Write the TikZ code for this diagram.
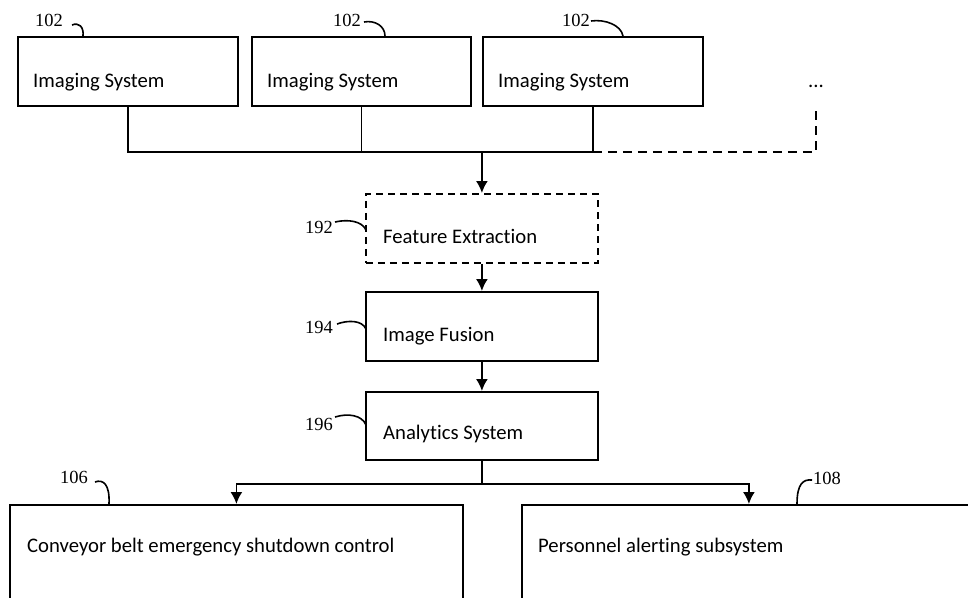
\documentclass[tikz,border=0pt]{standalone}
\usepackage{fontspec}
\setmainfont{Carlito}[Ligatures=NoCommon]
\newfontfamily\numfont{Liberation Serif}
\usetikzlibrary{arrows.meta,calc}
\begin{document}
\begin{tikzpicture}[x=1pt,y=-1pt,
  box/.style={draw, line width=1.8pt, rectangle, inner sep=0pt, anchor=north west},
  dbox/.style={box, dash pattern=on 7pt off 5pt},
  txt/.style={anchor=base west, inner sep=0pt, font=\fontsize{20.7}{24}\selectfont},
  num/.style={anchor=base west, inner sep=0pt, font=\numfont\fontsize{18.5}{20}\selectfont},
  wire/.style={line width=1.8pt},
  arr/.style={wire, -{Latex[length=12pt,width=12pt]}},
  lead/.style={line width=1.6pt}]
\clip (0,0) rectangle (968,597);
\fill[white] (0,0) rectangle (968,597);

% imaging systems
\node[box, minimum width=220, minimum height=69] (img1) at (17,36) {};
\node[box, minimum width=219, minimum height=69] (img2) at (251,36) {};
\node[box, minimum width=220, minimum height=69] (img3) at (482,36) {};
\node[txt] at (33,87) {Imaging System};
\node[txt] at (267,87) {Imaging System};
\node[txt] at (498,87) {Imaging System};
\node[txt, anchor=base] (dots) at (816,87) {...};
\coordinate (dotsEnd) at (816,106);

% processing chain
\node[dbox, minimum width=232, minimum height=69] (feat) at (365,193) {};
\node[txt] at (383,243) {Feature Extraction};
\node[box, minimum width=232, minimum height=69] (fuse) at (365,291) {};
\node[txt] at (383,341) {Image Fusion};
\node[box, minimum width=232, minimum height=68] (anal) at (365,391) {};
\node[txt] at (383,439) {Analytics System};

% output subsystems
\node[box, minimum width=453, minimum height=120] (conv) at (9,504) {};
\node[txt] at (27,552) {Conveyor belt emergency shutdown control};
\node[box, minimum width=454, minimum height=120] (pers) at (521,504) {};
\node[txt] at (538,552) {Personnel alerting subsystem};

% bus joining the imaging systems
\coordinate (busR) at ($(img3.south)+(0,45)$);
\draw[wire] (img1.south) |- (busR) -- (img3.south);
\draw[wire] (img2.south) -- (img2.south |- busR);
\draw[wire, dash pattern=on 9pt off 6pt] (busR) -| (dotsEnd);

% flow arrows
\draw[arr] (feat.north |- busR) -- (feat.north);
\draw[arr] (feat.south) -- (fuse.north);
\draw[arr] (fuse.south) -- (anal.north);
\coordinate (split) at ($(anal.south)+(0,23)$);
\draw[wire] (anal.south) -- (split);
\draw[arr] (split) -| (conv.north);
\draw[arr] (split) -| (pers.north);

% reference numerals
\node[num] at (35,27) {102};
\draw[lead] (72,25) .. controls (79,22) and (84,27) .. (83,36);
\node[num] at (333,27) {102};
\draw[lead] (364,22) .. controls (375,20) and (385,26) .. (385,36);
\node[num] at (562,27) {102};
\draw[lead] (591,21) .. controls (605,19) and (621,25) .. (623,36);
\node[num] at (305,233) {192};
\draw[lead] (335,222) .. controls (348,219) and (362,221) .. (366,230);
\node[num] at (305,333) {194};
\draw[lead] (337,324) .. controls (348,320) and (362,320) .. (366,329);
\node[num] at (305,430) {196};
\draw[lead] (335,417) .. controls (348,413) and (362,415) .. (366,425);
\node[num] at (60,483) {106};
\draw[lead] (95,482) .. controls (103,479) and (110,484) .. (109,504);
\node[num] at (813,484) {108};
\draw[lead] (812,480) .. controls (803,479) and (797,484) .. (797,504);
\end{tikzpicture}
\end{document}
